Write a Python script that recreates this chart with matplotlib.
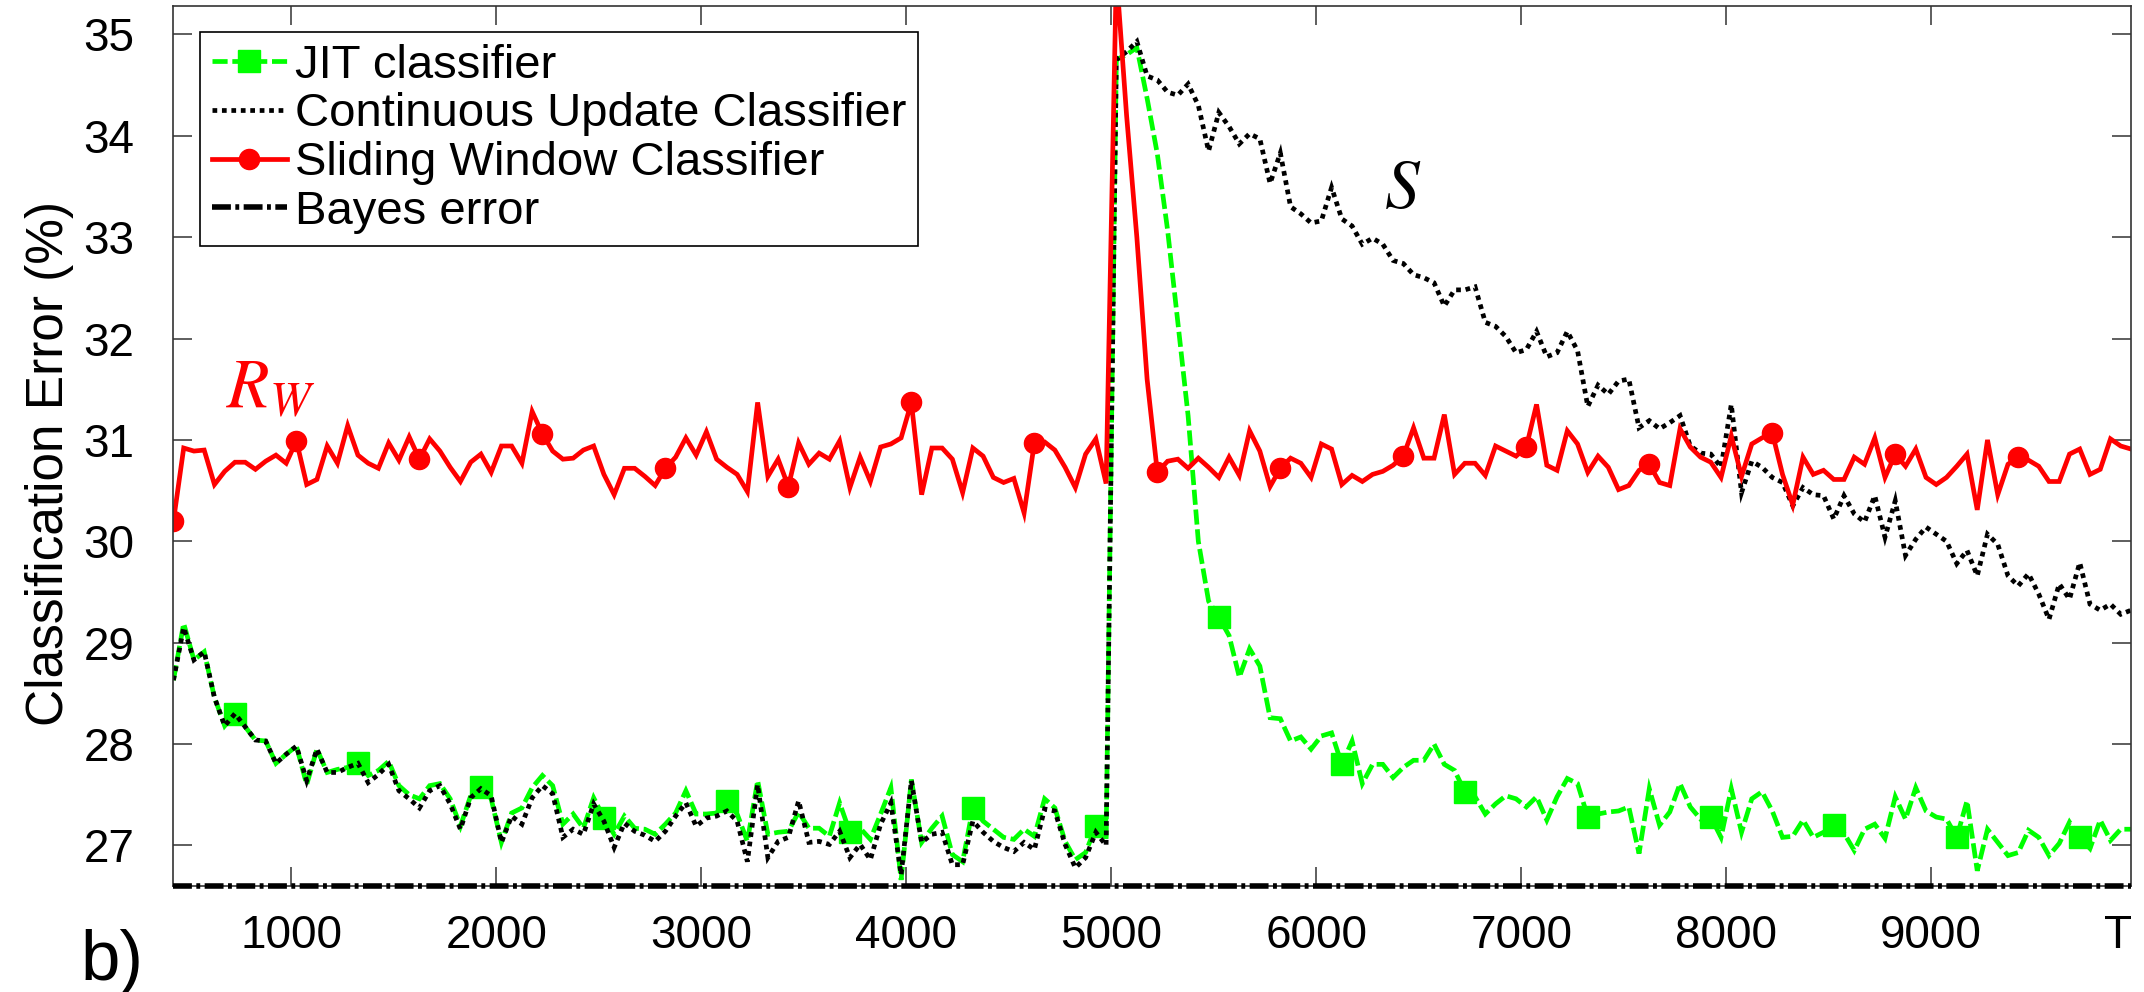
import numpy as np
import matplotlib
matplotlib.use('Agg')
from matplotlib import pyplot as plt

# 样本位置（每 50 个样本一个点）
t = np.arange(425, 10000, 50)

# JIT 分类器误差 (%)
jit_error = [
    28.63, 29.19, 28.83, 28.91, 28.46, 28.18, 28.30, 28.17, 28.04, 28.03,
    27.81, 27.90, 27.98, 27.60, 27.95, 27.72, 27.75, 27.77, 27.81, 27.69,
    27.74, 27.83, 27.59, 27.50, 27.46, 27.59, 27.61, 27.46, 27.19, 27.49,
    27.58, 27.46, 27.03, 27.32, 27.37, 27.57, 27.69, 27.59, 27.21, 27.31,
    27.17, 27.47, 27.27, 27.11, 27.29, 27.17, 27.16, 27.11, 27.21, 27.32,
    27.54, 27.31, 27.31, 27.32, 27.44, 27.31, 27.04, 27.64, 27.11, 27.13,
    27.14, 27.33, 27.17, 27.17, 27.09, 27.42, 27.13, 27.17, 27.06, 27.31,
    27.57, 26.66, 27.65, 27.03, 27.17, 27.29, 26.91, 26.84, 27.37, 27.24,
    27.16, 27.08, 27.06, 27.16, 27.09, 27.46, 27.37, 27.04, 26.86, 26.93,
    27.19, 27.05, 34.75, 34.80, 34.87, 34.37, 33.82, 33.07, 32.16, 31.24,
    30.00, 29.41, 29.25, 29.07, 28.66, 28.94, 28.77, 28.26, 28.25, 28.03,
    28.07, 27.95, 28.08, 28.11, 27.80, 28.03, 27.61, 27.80, 27.80, 27.67,
    27.77, 27.84, 27.84, 28.00, 27.80, 27.74, 27.53, 27.48, 27.31, 27.41,
    27.49, 27.46, 27.38, 27.48, 27.25, 27.48, 27.66, 27.61, 27.28, 27.31,
    27.33, 27.34, 27.38, 26.92, 27.56, 27.20, 27.33, 27.61, 27.38, 27.26,
    27.28, 27.08, 27.56, 27.13, 27.46, 27.53, 27.34, 27.08, 27.09, 27.25,
    27.08, 27.13, 27.20, 27.12, 26.95, 27.16, 27.21, 27.07, 27.48, 27.26,
    27.57, 27.34, 27.28, 27.26, 27.08, 27.44, 26.75, 27.16, 27.03, 26.90,
    26.93, 27.15, 27.08, 26.90, 27.02, 27.23, 27.08, 26.97, 27.25, 27.05,
    27.16, 27.16,
]

# 连续更新分类器误差 (%)
cont_error = [
    28.63, 29.15, 28.83, 28.91, 28.46, 28.18, 28.30, 28.17, 28.04, 28.03,
    27.81, 27.90, 27.98, 27.64, 27.95, 27.72, 27.72, 27.77, 27.81, 27.62,
    27.70, 27.80, 27.54, 27.46, 27.37, 27.54, 27.59, 27.41, 27.16, 27.47,
    27.56, 27.49, 27.03, 27.29, 27.21, 27.47, 27.59, 27.51, 27.08, 27.16,
    27.11, 27.41, 27.24, 26.98, 27.22, 27.14, 27.10, 27.04, 27.14, 27.29,
    27.42, 27.19, 27.27, 27.29, 27.34, 27.24, 26.84, 27.60, 26.88, 27.04,
    27.08, 27.44, 27.03, 27.04, 27.01, 27.14, 26.88, 27.01, 26.86, 27.21,
    27.42, 26.71, 27.64, 27.03, 27.11, 27.13, 26.81, 26.81, 27.24, 27.13,
    27.04, 26.98, 26.94, 27.03, 26.96, 27.36, 27.34, 27.01, 26.78, 26.88,
    27.13, 27.00, 34.75, 34.83, 34.93, 34.59, 34.55, 34.43, 34.40, 34.51,
    34.30, 33.85, 34.23, 34.09, 33.92, 34.02, 33.97, 33.53, 33.83, 33.30,
    33.23, 33.14, 33.16, 33.49, 33.18, 33.11, 32.93, 32.99, 32.93, 32.77,
    32.74, 32.63, 32.60, 32.55, 32.32, 32.48, 32.48, 32.51, 32.16, 32.12,
    32.02, 31.86, 31.89, 32.07, 31.82, 31.86, 32.07, 31.88, 31.33, 31.54,
    31.45, 31.58, 31.60, 31.12, 31.19, 31.11, 31.17, 31.24, 30.94, 30.87,
    30.86, 30.73, 31.35, 30.48, 30.79, 30.73, 30.63, 30.58, 30.35, 30.53,
    30.46, 30.45, 30.22, 30.45, 30.27, 30.19, 30.45, 30.04, 30.40, 29.86,
    30.02, 30.14, 30.07, 30.00, 29.78, 29.91, 29.66, 30.07, 29.97, 29.66,
    29.56, 29.68, 29.48, 29.23, 29.58, 29.43, 29.79, 29.38, 29.32, 29.38,
    29.28, 29.32,
]

# 滑动窗口分类器误差 (%)
sw_error = [
    30.20, 30.92, 30.89, 30.90, 30.56, 30.69, 30.78, 30.78, 30.71, 30.79,
    30.85, 30.77, 30.99, 30.56, 30.61, 30.94, 30.77, 31.14, 30.85, 30.77,
    30.72, 30.97, 30.80, 31.03, 30.81, 31.01, 30.89, 30.73, 30.59, 30.78,
    30.86, 30.68, 30.94, 30.94, 30.77, 31.28, 31.06, 30.89, 30.81, 30.82,
    30.90, 30.94, 30.66, 30.46, 30.72, 30.72, 30.64, 30.55, 30.72, 30.83,
    31.02, 30.85, 31.08, 30.81, 30.73, 30.66, 30.49, 31.37, 30.64, 30.81,
    30.54, 30.97, 30.76, 30.87, 30.81, 30.99, 30.53, 30.83, 30.59, 30.93,
    30.96, 31.02, 31.37, 30.46, 30.92, 30.92, 30.81, 30.48, 30.92, 30.84,
    30.63, 30.58, 30.62, 30.28, 30.97, 30.98, 30.90, 30.73, 30.53, 30.86,
    31.01, 30.57, 35.60, 34.20, 33.00, 31.60, 30.68, 30.79, 30.81, 30.72,
    30.82, 30.73, 30.63, 30.83, 30.65, 31.09, 30.89, 30.54, 30.72, 30.82,
    30.77, 30.63, 30.96, 30.91, 30.56, 30.65, 30.59, 30.66, 30.69, 30.75,
    30.84, 31.12, 30.82, 30.82, 31.25, 30.66, 30.77, 30.77, 30.65, 30.94,
    30.89, 30.84, 30.93, 31.35, 30.75, 30.70, 31.09, 30.96, 30.68, 30.84,
    30.73, 30.51, 30.55, 30.70, 30.76, 30.58, 30.55, 31.11, 30.93, 30.83,
    30.78, 30.63, 31.04, 30.64, 30.96, 31.02, 31.07, 30.66, 30.36, 30.83,
    30.66, 30.70, 30.61, 30.61, 30.83, 30.76, 31.02, 30.63, 30.86, 30.74,
    30.91, 30.63, 30.56, 30.63, 30.74, 30.86, 30.31, 31.00, 30.46, 30.76,
    30.83, 30.80, 30.74, 30.59, 30.59, 30.86, 30.91, 30.66, 30.71, 31.01,
    30.94, 30.91,
]

bayes_error = 26.6

x_ticks = [1000, 2000, 3000, 4000, 5000, 6000, 7000, 8000, 9000, 9910]
x_tick_labels = ['1000', '2000', '3000', '4000', '5000', '6000', '7000',
                 '8000', '9000', 'T']
y_ticks = [27, 28, 29, 30, 31, 32, 33, 34, 35]


def draw_chart():
    plt.rcParams['font.family'] = ['Liberation Sans', 'DejaVu Sans']
    plt.rcParams['mathtext.fontset'] = 'stix'

    fig = plt.figure(figsize=(21.44, 9.92), dpi=100)
    ax = fig.add_axes([0.0809, 0.10685, 0.91303, 0.8871])

    green = '#00ff00'
    red = '#ff0000'

    ax.plot(t, jit_error, color=green, lw=3.4, dashes=(3.2, 1.0),
            marker='s', markersize=16, markevery=(6, 12),
            dash_joinstyle='miter', label='JIT classifier')
    ax.plot(t, cont_error, color='black', lw=3.4, dashes=(1.0, 1.0),
            dash_joinstyle='miter', label='Continuous Update Classifier')
    ax.plot(t, sw_error, color=red, lw=3.4, marker='o', markersize=14.5,
            markevery=(0, 12), solid_joinstyle='miter',
            label='Sliding Window Classifier')
    ax.axhline(bayes_error, color='black', lw=4,
               dashes=(3.4, 0.8, 0.7, 0.8), clip_on=False, zorder=3,
               label='Bayes error')

    ax.set_xlim(425, 9975)
    ax.set_ylim(26.6, 35.28)
    ax.set_xticks(x_ticks)
    ax.set_xticklabels(x_tick_labels)
    ax.set_yticks(y_ticks)

    ax.tick_params(axis='both', direction='in', length=14, width=1.1,
                   labelsize=33, color='#333333', top=True, right=True)
    ax.tick_params(axis='x', pad=20)
    ax.tick_params(axis='y', pad=28)
    # T 只有标签，没有刻度线
    last_tick = ax.xaxis.get_major_ticks()[-1]
    last_tick.tick1line.set_visible(False)
    last_tick.tick2line.set_visible(False)
    for sp in ax.spines.values():
        sp.set_color('#333333')
        sp.set_linewidth(1.2)

    # 曲线标注
    ax.text(680, 31.33, r'$R_W$', color=red, fontsize=50, va='baseline')
    ax.text(6330, 33.29, r'$S$', color='black', fontsize=50, va='baseline')

    leg = ax.legend(loc='upper left', bbox_to_anchor=(0.0135, 0.9705),
                    borderaxespad=0, fontsize=34, frameon=True,
                    fancybox=False, framealpha=1, edgecolor='black',
                    handlelength=1.6, handletextpad=0.17, borderpad=0.25,
                    labelspacing=0.1)
    leg.get_frame().set_linewidth(1.2)

    fig.text(50 / 2144, 1 - 463 / 992, 'Classification Error (%)',
             rotation=90, ha='center', va='center', fontsize=37)
    fig.text(80 / 2144, 1 - 980 / 992, 'b)', fontsize=51, va='baseline')

    fig.savefig('out.png', dpi=100)


if __name__ == "__main__":
    draw_chart()
